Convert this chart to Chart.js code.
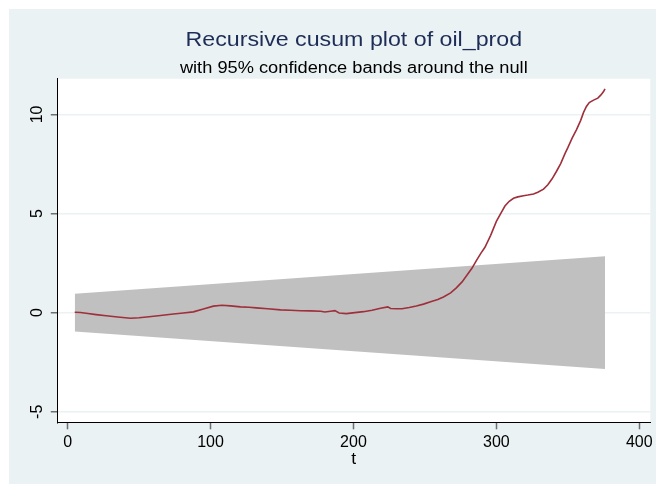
<!DOCTYPE html>
<html>
<head>
<meta charset="utf-8">
<script src="https://cdn.jsdelivr.net/npm/chart.js@4/dist/chart.umd.min.js"></script>
<style>
html,body{margin:0;padding:0;background:#ffffff;}
#wrap{width:656px;height:484px;}
</style>
</head>
<body>
<div id="wrap"><canvas id="c" width="656" height="484"></canvas></div>
<script>
const titleText = "Recursive cusum plot of oil_prod";
const subtitleText = "with 95% confidence bands around the null";
const xAxisTitle = "t";

const xTicks = [0, 100, 200, 300, 400];
const yTicks = [-5, 0, 5, 10];

const cusumT = [5, 9, 13, 20, 27, 35, 44, 50, 57, 65, 74, 81, 88, 95, 102, 108, 114, 121, 127, 132, 140, 149, 156, 163, 170, 177, 180, 184, 187, 190, 195, 201, 207, 213, 219, 224, 226, 230, 234, 239, 244, 249, 254, 259, 263, 268, 272, 276, 279, 283, 286, 289, 292, 296, 300, 303, 306, 309, 312, 315, 319, 322, 326, 329, 333, 336, 339, 342, 345, 348, 350, 353, 356, 359, 361, 363, 365, 368, 371, 373, 375, 376];
const cusumV = [0.02, 0.01, -0.03, -0.10, -0.16, -0.22, -0.28, -0.26, -0.21, -0.14, -0.07, -0.02, 0.04, 0.18, 0.33, 0.37, 0.34, 0.29, 0.27, 0.24, 0.20, 0.14, 0.12, 0.10, 0.09, 0.07, 0.03, 0.07, 0.10, -0.02, -0.05, 0.00, 0.05, 0.12, 0.22, 0.29, 0.21, 0.20, 0.20, 0.26, 0.34, 0.43, 0.55, 0.66, 0.79, 1.00, 1.25, 1.55, 1.85, 2.25, 2.62, 2.98, 3.30, 3.90, 4.60, 5.00, 5.38, 5.62, 5.77, 5.84, 5.90, 5.93, 5.98, 6.07, 6.23, 6.45, 6.75, 7.12, 7.52, 8.02, 8.32, 8.80, 9.22, 9.70, 10.10, 10.40, 10.60, 10.72, 10.82, 10.97, 11.15, 11.29];

const bandT = [5, 376];
const bandUpper = [0.95, 2.84];
const bandLower = [-0.95, -2.84];

const pts = (xs, ys) => xs.map((x, i) => ({x: x, y: ys[i]}));

const bgPlugin = {
  id: 'bg',
  beforeDraw(chart) {
    const {ctx, chartArea: a} = chart;
    ctx.save();
    ctx.fillStyle = '#ffffff';
    ctx.fillRect(0, 0, chart.width, chart.height);
    ctx.fillStyle = '#EAF2F3';
    ctx.fillRect(9, 9, chart.width - 9, chart.height - 9);
    ctx.fillStyle = '#ffffff';
    ctx.fillRect(a.left, a.top, a.right - a.left, a.bottom - a.top);
    ctx.restore();
  },
  afterDraw(chart) {
    const {ctx, chartArea: a} = chart;
    const cx = (a.left + a.right) / 2;
    const drawStretched = (text, font, color, y, sx) => {
      ctx.save();
      ctx.font = font;
      ctx.fillStyle = color;
      ctx.textAlign = 'center';
      ctx.textBaseline = 'alphabetic';
      ctx.translate(cx, y);
      ctx.scale(sx, 1);
      ctx.fillText(text, 0, 0);
      ctx.restore();
    };
    drawStretched(titleText, '20px "Liberation Sans", Arial, sans-serif', '#1e2d57', 45.5, 1.16);
    drawStretched(subtitleText, '16px "Liberation Sans", Arial, sans-serif', '#000000', 73, 1.14);
    drawStretched(xAxisTitle, '16px "Liberation Sans", Arial, sans-serif', '#000000', 463.5, 1.1);
  }
};

new Chart(document.getElementById('c'), {
  type: 'line',
  data: {
    datasets: [
      {
        label: 'cusum',
        data: pts(cusumT, cusumV),
        borderColor: '#9e2f3b',
        borderWidth: 1.6,
        pointRadius: 0,
        tension: 0,
        fill: false
      },
      {
        label: 'upper',
        data: pts(bandT, bandUpper),
        borderWidth: 0,
        borderColor: 'rgba(0,0,0,0)',
        backgroundColor: '#c0c0c0',
        pointRadius: 0,
        fill: '+1'
      },
      {
        label: 'lower',
        data: pts(bandT, bandLower),
        borderWidth: 0,
        borderColor: 'rgba(0,0,0,0)',
        pointRadius: 0,
        fill: false
      }
    ]
  },
  options: {
    responsive: false,
    animation: false,
    devicePixelRatio: 1,
    layout: {padding: {top: 78.7, right: 5.7, left: 0, bottom: 0}},
    plugins: {
      legend: {display: false},
      title: {display: false},
      tooltip: {enabled: false}
    },
    scales: {
      x: {
        type: 'linear',
        min: -7.2,
        max: 407.7,
        afterBuildTicks: (axis) => { axis.ticks = xTicks.map(v => ({value: v})); },
        afterFit: (s) => { s.height = 61.7; s.paddingLeft = 0; s.paddingRight = 0; },
        border: {display: true, color: '#000000', width: 1},
        grid: {drawOnChartArea: false, drawTicks: true, tickLength: 7, tickColor: '#6f6f6f', tickWidth: 1.5},
        ticks: {color: '#000000', font: {family: '"Liberation Sans", Arial, sans-serif', size: 16}, padding: 3.6, maxRotation: 0, minRotation: 0}
      },
      y: {
        type: 'linear',
        min: -5.53,
        max: 11.8,
        afterBuildTicks: (axis) => { axis.ticks = yTicks.map(v => ({value: v})); },
        afterFit: (s) => { s.width = 57.3; s.paddingTop = 0; s.paddingBottom = 0; },
        border: {display: true, color: '#000000', width: 1},
        grid: {drawOnChartArea: true, color: '#EAF2F3', lineWidth: 1.5, drawTicks: true, tickLength: 6.5, tickColor: '#6f6f6f', tickWidth: 1.5},
        ticks: {color: '#000000', font: {family: '"Liberation Sans", Arial, sans-serif', size: 16}, padding: 3.9, minRotation: 90, maxRotation: 90, crossAlign: 'center'}
      }
    }
  },
  plugins: [bgPlugin]
});
</script>
</body>
</html>
